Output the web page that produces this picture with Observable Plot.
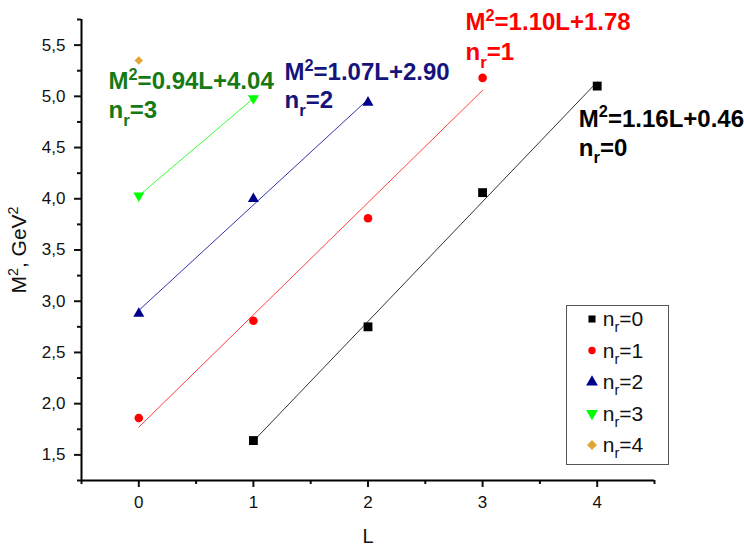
<!DOCTYPE html>
<html><head><meta charset="utf-8">
<script src="https://cdn.jsdelivr.net/npm/d3@7"></script>
<script src="https://cdn.jsdelivr.net/npm/@observablehq/plot@0.6"></script>
<style>body{margin:0;background:#fff;} #chart svg{display:block;}</style>
</head><body><div id="chart"></div>
<script>
// ---- data ----
const L0 = [1, 2, 3, 4],  M0 = [1.64, 2.75, 4.06, 5.10];
const L1 = [0, 1, 2, 3],  M1 = [1.86, 2.81, 3.81, 5.18];
const L2 = [0, 1, 2],     M2 = [2.88, 4.00, 4.94];
const L3 = [0, 1],        M3 = [4.03, 4.98];
const L4 = [0],           M4 = [5.35];

const seriesNames = ["n_r=0", "n_r=1", "n_r=2", "n_r=3", "n_r=4"];
const seriesColors = ["#000000", "#ff0000", "#00008b", "#00ff00", "#e3a535"];
const seriesSymbols = ["square", "circle", "triangle", "triangle", "diamond2"];
const seriesRotate = [0, 0, 0, 180, 0];
const seriesR = [5.0, 4.3, 4.1, 4.1, 3.8];
const legendSize = [50, 43, 60, 60, 64];

const fitColors = ["#333333", "#ff4040", "#3333aa", "#33ff33"];
const eqTexts = ["M^2=1.16L+0.46", "M^2=1.10L+1.78", "M^2=1.07L+2.90", "M^2=0.94L+4.04"];
const eqNr = ["n_r=0", "n_r=1", "n_r=2", "n_r=3"];
const eqColors = ["#000000", "#ff0000", "#14147a", "#157a15"];
const eqL = [3.84, 2.851, 1.271, -0.264];
const eqM = [4.70, 5.643, 5.155, 5.067];
const nrM = [4.42, 5.35, 4.882, 4.784];

const xTicks = [0, 1, 2, 3, 4];
const xMinor = [-0.5, 0.5, 1.5, 2.5, 3.5, 4.5];
const yTicks = [1.5, 2.0, 2.5, 3.0, 3.5, 4.0, 4.5, 5.0, 5.5];
const yMinor = [1.25, 1.75, 2.25, 2.75, 3.25, 3.75, 4.25, 4.75, 5.25, 5.75];

const Ls = [L0, L1, L2, L3, L4], Ms = [M0, M1, M2, M3, M4];
const series = Ls.map((L, i) => L.map((l, j) => ({L: l, M: Ms[i][j], s: i})));

const fits = [0, 1, 2, 3].map(i => Plot.linearRegressionY(series[i], {
  x: "L", y: "M", stroke: fitColors[i], strokeWidth: 1, ci: 0
}));
const dots = series.map((d, i) => Plot.dot(d, {
  x: "L", y: "M", symbol: seriesSymbols[i], r: seriesR[i], fill: seriesColors[i],
  stroke: "none", rotate: seriesRotate[i]
}));
const eqMarks = [0, 1, 2, 3].flatMap(i => [
  Plot.text([i], {x: () => eqL[i], y: () => eqM[i], text: () => eqTexts[i], fill: eqColors[i],
    textAnchor: "start", lineAnchor: "bottom", fontSize: 24, fontWeight: "bold"}),
  Plot.text([i], {x: () => eqL[i], y: () => nrM[i], text: () => eqNr[i], fill: eqColors[i],
    textAnchor: "start", lineAnchor: "bottom", fontSize: 24, fontWeight: "bold"})
]);

const fmt = d => d.toFixed(1).replace(".", ",");

const plot = Plot.plot({
  width: 744, height: 548,
  marginLeft: 81, marginRight: 90, marginTop: 19, marginBottom: 68,
  x: {domain: [-0.5, 4.5]},
  y: {domain: [1.25, 5.75]},
  style: {fontFamily: "'Liberation Sans', Arial, sans-serif", fontSize: "17px", color: "#111", background: "#fff", overflow: "visible"},
  marks: [
    Plot.axisX({ticks: xTicks, tickSize: 7, tickPadding: 8, strokeWidth: 2, label: null, fontSize: 17, tickFormat: d => String(d)}),
    Plot.axisX({ticks: xMinor, tickSize: 4, strokeWidth: 2, text: null, label: null}),
    Plot.axisY({ticks: yTicks, tickSize: 7, tickPadding: 9, strokeWidth: 2, label: null, fontSize: 17, tickFormat: fmt}),
    Plot.axisY({ticks: yMinor, tickSize: 4, strokeWidth: 2, text: null, label: null}),
    Plot.ruleX([-0.5], {strokeWidth: 2, stroke: "#000"}),
    Plot.ruleY([1.25], {strokeWidth: 2, stroke: "#000"}),
    ...fits,
    ...dots,
    ...eqMarks
  ]
});

document.getElementById("chart").appendChild(plot);
const svg = d3.select(plot);

// axis titles
svg.append("text").attr("x", 368).attr("y", 543).attr("text-anchor", "middle")
  .attr("font-size", 20).attr("fill", "#111").text("L");
svg.append("text").attr("transform", "translate(26,250) rotate(-90)").attr("text-anchor", "middle")
  .attr("font-size", 21).attr("fill", "#111").text("M^2, GeV^2");

// legend
const lg = svg.append("g");
lg.append("rect").attr("x", 566.5).attr("y", 305.5).attr("width", 102).attr("height", 159)
  .attr("fill", "#fff").attr("stroke", "#555").attr("stroke-width", 1);
const symMap = {square: d3.symbolSquare, circle: d3.symbolCircle, triangle: d3.symbolTriangle, diamond2: d3.symbolDiamond2};
seriesNames.forEach((name, i) => {
  const cy = 319 + i * 31.5;
  lg.append("path").attr("d", d3.symbol(symMap[seriesSymbols[i]], legendSize[i])())
    .attr("transform", `translate(592,${cy}) rotate(${seriesRotate[i]})`)
    .attr("fill", seriesColors[i]);
  lg.append("text").attr("x", 623).attr("y", cy + 7).attr("font-size", 21).attr("fill", "#111").text(name);
});

// rich text: ^x superscript, _x subscript
svg.selectAll("text").each(function() {
  const t = this.textContent;
  if (!/[_^]/.test(t)) return;
  const fs = parseFloat(getComputedStyle(this).fontSize) || 16;
  const el = d3.select(this);
  el.text(null);
  let shift = 0;
  t.split(/([_^].)/).forEach(p => {
    if (!p) return;
    if (p[0] === "^") {
      const dy = -0.4 * fs;
      el.append("tspan").attr("dy", dy - shift).attr("font-size", 0.68 * fs).text(p[1]);
      shift = dy;
    } else if (p[0] === "_") {
      const dy = 0.3 * fs;
      el.append("tspan").attr("dy", dy - shift).attr("font-size", 0.7 * fs).text(p[1]);
      shift = dy;
    } else {
      el.append("tspan").attr("dy", -shift).text(p);
      shift = 0;
    }
  });
});
</script>
</body></html>
